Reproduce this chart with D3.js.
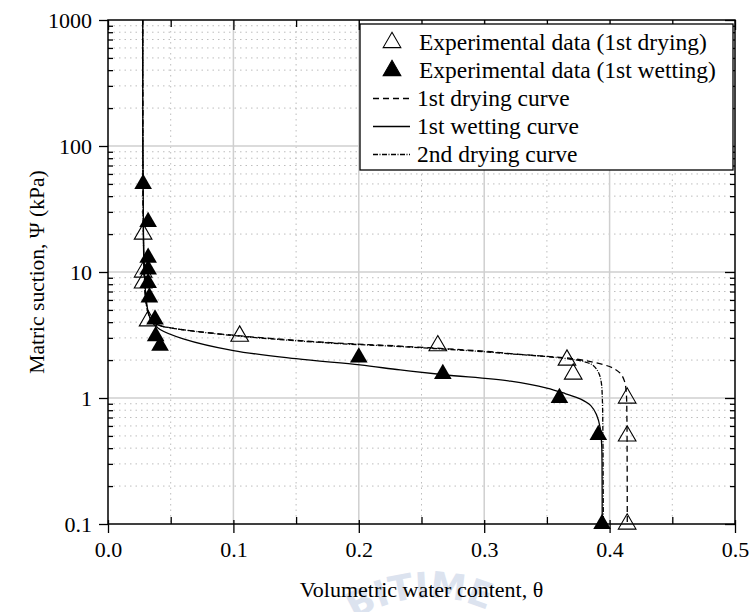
<!DOCTYPE html>
<html>
<head>
<meta charset="utf-8">
<script src="https://cdn.jsdelivr.net/npm/d3@7"></script>
<style>
  body { margin: 0; background: #fff; }
  text { font-family: "Liberation Serif", "Times New Roman", serif; fill: #000; }
</style>
</head>
<body>
<script>
const width = 753;
const height = 612;

// axis ticks
const xTickValues = [0, 0.1, 0.2, 0.3, 0.4, 0.5];
const xTickLabels = ["0.0", "0.1", "0.2", "0.3", "0.4", "0.5"];
const yTickValues = [0.1, 1, 10, 100, 1000];
const yTickLabels = ["0.1", "1", "10", "100", "1000"];

// experimental points [theta, suction kPa]
const dryingPoints = [[0.028, 20], [0.028, 10], [0.028, 8.2], [0.032, 4.1], [0.105, 3.1],
  [0.263, 2.6], [0.366, 2.0], [0.371, 1.55], [0.414, 1.0], [0.414, 0.5], [0.414, 0.1]];
const wettingPoints = [[0.028, 50], [0.032, 25], [0.032, 13], [0.032, 10.5], [0.032, 8.2],
  [0.033, 6.3], [0.0375, 4.2], [0.038, 3.1], [0.0415, 2.6], [0.200, 2.1], [0.267, 1.55],
  [0.360, 1.0], [0.391, 0.51], [0.394, 0.1]];

// fitted curves
const dryingCurve1 = [[0.0277, 1000], [0.0278, 100], [0.0282, 20], [0.0288, 10], [0.0298, 6.5],
  [0.0318, 4.8], [0.035, 4.1], [0.04, 3.8], [0.05, 3.6], [0.1, 3.15], [0.177, 2.75], [0.233, 2.58],
  [0.3, 2.35], [0.321, 2.25], [0.35, 2.14], [0.368, 2.07], [0.384, 1.95], [0.396, 1.83],
  [0.404, 1.7], [0.409, 1.55], [0.412, 1.35], [0.4133, 1.1], [0.4138, 0.7], [0.414, 0.3], [0.4141, 0.1]];
const dryingCurve2 = [[0.0277, 1000], [0.0278, 100], [0.0282, 20], [0.0288, 10], [0.0298, 6.5],
  [0.0318, 4.8], [0.035, 4.1], [0.04, 3.8], [0.05, 3.6], [0.1, 3.13], [0.177, 2.73], [0.233, 2.56],
  [0.3, 2.33], [0.321, 2.24], [0.35, 2.13], [0.368, 2.04], [0.38, 1.94], [0.386, 1.84],
  [0.3895, 1.7], [0.392, 1.52], [0.3935, 1.3], [0.3942, 1.0], [0.3946, 0.6], [0.3948, 0.3], [0.395, 0.1]];
const wettingCurve = [[0.0277, 1000], [0.0278, 100], [0.0283, 20], [0.029, 10], [0.0302, 6.5],
  [0.0325, 4.6], [0.036, 3.9], [0.0415, 3.5], [0.06, 2.95], [0.1, 2.38], [0.15, 2.05], [0.201, 1.83],
  [0.233, 1.67], [0.268, 1.53], [0.321, 1.36], [0.35, 1.2], [0.365, 1.08], [0.377, 0.98],
  [0.385, 0.87], [0.3895, 0.74], [0.3925, 0.58], [0.3937, 0.42], [0.394, 0.25], [0.3941, 0.1]];

const xMinor = [0.05, 0.15, 0.25, 0.35, 0.45];
const yMinor = [];
[0.1, 1, 10, 100].forEach(d => { for (let k = 2; k <= 9; k++) yMinor.push(d * k); });

const plotLeft = 108, plotRight = 735, plotTop = 20, plotBottom = 524;

const x = d3.scaleLinear().domain([0, 0.5]).range([plotLeft, plotRight]);
const y = d3.scaleLog().domain([0.1, 1000]).range([plotBottom, plotTop]);

const svg = d3.select("body").append("svg")
  .attr("width", width)
  .attr("height", height);

// faint watermark behind the x title
const wm = svg.append("g");
wm.append("path").attr("id", "wmArc")
  .attr("d", "M 300 686 A 140 140 0 0 1 560 686")
  .attr("fill", "none");
wm.append("text")
  .style("font-family", "'DejaVu Sans', sans-serif")
  .style("font-weight", "bold")
  .style("font-size", "36px")
  .style("fill", "#dce3ef")
  .append("textPath").attr("href", "#wmArc").attr("startOffset", "26%")
  .text("BITIME");

// grid
const grid = svg.append("g");
grid.selectAll(".gxm").data(xMinor).enter().append("line")
  .attr("x1", d => x(d)).attr("x2", d => x(d)).attr("y1", plotTop).attr("y2", plotBottom)
  .attr("stroke", "#bdbdbd").attr("stroke-width", 1).attr("stroke-dasharray", "1.5,4");
grid.selectAll(".gym").data(yMinor).enter().append("line")
  .attr("y1", d => y(d)).attr("y2", d => y(d)).attr("x1", plotLeft).attr("x2", plotRight)
  .attr("stroke", "#bdbdbd").attr("stroke-width", 1).attr("stroke-dasharray", "1.5,4");
grid.selectAll(".gx").data(xTickValues.slice(1, -1)).enter().append("line")
  .attr("x1", d => x(d)).attr("x2", d => x(d)).attr("y1", plotTop).attr("y2", plotBottom)
  .attr("stroke", "#cfcfcf").attr("stroke-width", 1.5);
grid.selectAll(".gy").data(yTickValues.slice(1, -1)).enter().append("line")
  .attr("y1", d => y(d)).attr("y2", d => y(d)).attr("x1", plotLeft).attr("x2", plotRight)
  .attr("stroke", "#cfcfcf").attr("stroke-width", 1.5);

// curves
const line = d3.line()
  .x(d => x(d[0]))
  .y(d => y(d[1]))
  .curve(d3.curveCatmullRom.alpha(0.5));

const curves = [
  { data: dryingCurve1, dash: "6,4" },
  { data: dryingCurve2, dash: "5,1.5,1,1.5" },
  { data: wettingCurve, dash: null }
];
svg.append("g").selectAll("path").data(curves).enter().append("path")
  .attr("d", d => line(d.data))
  .attr("fill", "none")
  .attr("stroke", "#000")
  .attr("stroke-width", 1.3)
  .attr("stroke-dasharray", d => d.dash);

// markers
const tri = d3.symbol().type(d3.symbolTriangle).size(135);
svg.append("g").selectAll("path").data(wettingPoints).enter().append("path")
  .attr("d", tri)
  .attr("transform", d => `translate(${x(d[0])},${y(d[1])})`)
  .attr("fill", "#000");
svg.append("g").selectAll("path").data(dryingPoints).enter().append("path")
  .attr("d", tri)
  .attr("transform", d => `translate(${x(d[0])},${y(d[1])})`)
  .attr("fill", "none")
  .attr("stroke", "#000")
  .attr("stroke-width", 1.1);

// axes
function styleAxis(g) {
  g.select(".domain").remove();
  g.selectAll("line").attr("stroke", "#000").attr("stroke-width", 1.3);
  g.attr("font-family", null);
  g.selectAll("text")
    .style("font-family", "'Liberation Serif', 'Times New Roman', serif")
    .style("font-size", "22px")
    .attr("fill", "#000");
}

svg.append("g").attr("transform", `translate(0,${plotBottom})`)
  .call(d3.axisBottom(x).tickValues(xTickValues).tickSize(9).tickPadding(8)
    .tickFormat((d, i) => xTickLabels[i]))
  .call(styleAxis);
svg.append("g").attr("transform", `translate(0,${plotBottom})`)
  .call(d3.axisTop(x).tickValues(xTickValues).tickSize(4).tickFormat(""))
  .call(styleAxis);
svg.append("g").attr("transform", `translate(0,${plotBottom})`)
  .call(d3.axisTop(x).tickValues(xMinor).tickSize(7).tickFormat(""))
  .call(styleAxis);

svg.append("g").attr("transform", `translate(${plotLeft},0)`)
  .call(d3.axisLeft(y).tickValues(yTickValues).tickSize(9).tickPadding(7)
    .tickFormat((d, i) => yTickLabels[i]))
  .call(styleAxis);
svg.append("g").attr("transform", `translate(${plotLeft},0)`)
  .call(d3.axisRight(y).tickValues(yMinor).tickSize(5).tickFormat(""))
  .call(styleAxis);

svg.append("g").attr("transform", `translate(0,${plotTop})`)
  .call(d3.axisBottom(x).tickValues(xTickValues).tickSize(10).tickFormat(""))
  .call(styleAxis);
svg.append("g").attr("transform", `translate(0,${plotTop})`)
  .call(d3.axisBottom(x).tickValues(xMinor).tickSize(7).tickFormat(""))
  .call(styleAxis);

svg.append("g").attr("transform", `translate(${plotRight},0)`)
  .call(d3.axisLeft(y).tickValues(yTickValues).tickSize(10).tickFormat(""))
  .call(styleAxis);
svg.append("g").attr("transform", `translate(${plotRight},0)`)
  .call(d3.axisLeft(y).tickValues(yMinor).tickSize(5).tickFormat(""))
  .call(styleAxis);

// frame
svg.append("rect")
  .attr("x", plotLeft).attr("y", plotTop)
  .attr("width", plotRight - plotLeft).attr("height", plotBottom - plotTop)
  .attr("fill", "none").attr("stroke", "#000").attr("stroke-width", 1.5);

// axis titles
svg.append("text")
  .attr("x", (plotLeft + plotRight) / 2).attr("y", 597)
  .attr("text-anchor", "middle")
  .style("font-size", "22px")
  .text("Volumetric water content, \u03b8");
svg.append("text")
  .attr("transform", `translate(44,${(plotTop + plotBottom) / 2}) rotate(-90)`)
  .attr("text-anchor", "middle")
  .style("font-size", "21.5px")
  .text("Matric suction, \u03a8 (kPa)");

// legend
const legendItems = [
  { label: "Experimental data (1st drying)", kind: "open" },
  { label: "Experimental data (1st wetting)", kind: "filled" },
  { label: "1st drying curve", kind: "line", dash: "6,4" },
  { label: "1st wetting curve", kind: "line", dash: null },
  { label: "2nd drying curve", kind: "line", dash: "5,1.5,1,1.5" }
];
const legend = svg.append("g");
legend.append("rect")
  .attr("x", 360).attr("y", 24).attr("width", 373).attr("height", 146)
  .attr("fill", "#fff").attr("stroke", "#000").attr("stroke-width", 1.3);
const li = legend.selectAll(".item").data(legendItems).enter().append("g")
  .attr("transform", (d, i) => `translate(0,${42.5 + i * 28})`);
li.filter(d => d.kind !== "line").append("path")
  .attr("d", tri)
  .attr("transform", "translate(392,0)")
  .attr("fill", d => d.kind === "filled" ? "#000" : "none")
  .attr("stroke", "#000").attr("stroke-width", 1.1);
li.filter(d => d.kind === "line").append("line")
  .attr("x1", 373).attr("x2", 410).attr("y1", 0).attr("y2", 0)
  .attr("stroke", "#000").attr("stroke-width", 1.3)
  .attr("stroke-dasharray", d => d.dash);
li.append("text")
  .attr("x", d => d.kind === "line" ? 417 : 419)
  .attr("y", 7.5)
  .style("font-size", "23.5px")
  .text(d => d.label);
</script>
</body>
</html>
